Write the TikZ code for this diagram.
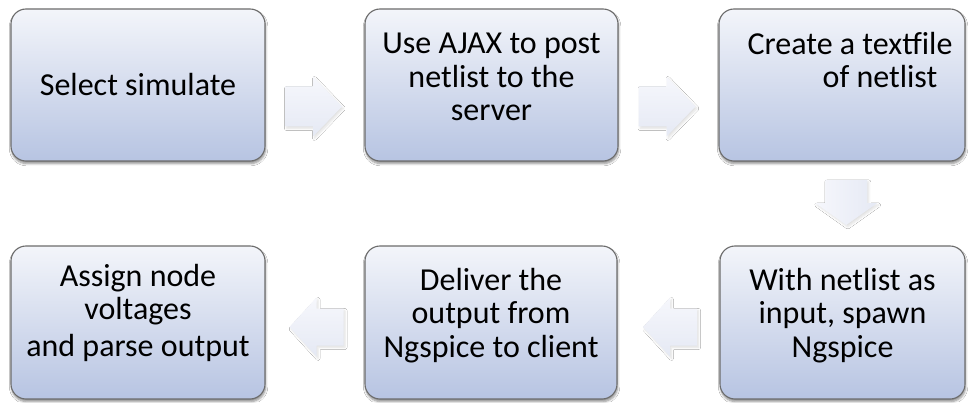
\documentclass[tikz,border=0pt]{standalone}
\usepackage{fontspec}
\setmainfont{Carlito}
\usetikzlibrary{calc,shadows.blur}

\definecolor{boxtop}{RGB}{243,245,250}
\definecolor{boxbot}{RGB}{183,196,226}
\definecolor{boxline}{RGB}{108,108,108}
\definecolor{arrlight}{RGB}{246,247,252}
\definecolor{arrdark}{RGB}{229,233,244}

\tikzset{
  stepbox/.style={draw=boxline, line width=1.1pt, rounded corners=15pt,
    top color=boxtop, bottom color=boxbot, inner sep=0pt,
    minimum height=152pt,
    blur shadow={shadow xshift=0.6pt, shadow yshift=-2.6pt,
      shadow opacity=45, shadow blur steps=6, shadow blur radius=2.2pt}},
  steptext/.style={align=center, inner sep=0pt,
    font=\fontsize{32}{33.5}\selectfont},
  arrowshade/.style={top color=arrlight, bottom color=arrdark},
  % block arrow pointing along +x, centred on its origin:
  % #1 length, #2 shaft half-height, #3 head half-height, #4 head length
  pics/blockarrow/.style n args={4}{code={
    \path[arrowshade,
      blur shadow={shadow xshift=1.5pt, shadow yshift=-2pt,
        shadow opacity=12, shadow blur steps=5, shadow blur radius=2pt}]
      (-#1/2,#2) -- (#1/2-#4,#2) -- (#1/2-#4,#3) -- (#1/2,0)
      -- (#1/2-#4,-#3) -- (#1/2-#4,-#2) -- (-#1/2,-#2) -- cycle;
  }},
}

\begin{document}
\begin{tikzpicture}[x=1pt,y=1pt]
\useasboundingbox (0,0) rectangle (968,402);
\fill[white] (0,0) rectangle (968,402);

% process steps
\node[stepbox, minimum width=254pt] (b1) at (138,317) {};
\node[stepbox, minimum width=253pt] (b2) at (491.5,317) {};
\node[stepbox, minimum width=246pt] (b3) at (842,317) {};
\node[stepbox, minimum width=254pt, minimum height=153pt] (b4) at (138,79.5) {};
\node[stepbox, minimum width=252pt, minimum height=153pt] (b5) at (491,79.5) {};
\node[stepbox, minimum width=245pt, minimum height=153pt] (b6) at (842.5,79.5) {};

% labels
\node[steptext] (t1) at (b1.center) {Select simulate};
\node[steptext] (t2) at ($(b2.center)+(0,8)$) {Use AJAX to post\\netlist to the\\server};
\node[steptext] (t3) at ($(b3.center)+(0,25)$) {\hspace*{16pt}Create a textfile\\\hspace*{76pt}of netlist};
\node[steptext] (t4) at ($(b4.center)+(0,10)$) {Assign node\\voltages\\[3pt]and parse output};
\node[steptext] (t5) at ($(b5.center)+(0,7)$) {Deliver the\\output from\\Ngspice to client};
\node[steptext] (t6) at ($(b6.center)+(0,7)$) {With netlist as\\input, spawn\\Ngspice};

% flow arrows between the steps
\pic[yshift=-21.5pt, xshift=-1.5pt] at ($(b1.east)!0.5!(b2.west)$) {blockarrow={57}{20}{30}{29}};
\pic[yshift=-21.5pt, xshift=-1.5pt] at ($(b2.east)!0.5!(b3.west)$) {blockarrow={57}{20}{30}{29}};
\pic[rotate=-90, xshift=-1pt, yshift=4pt,
     arrowshade/.style={left color=arrlight, right color=arrdark}]
  at ($(b3.south)!0.5!(b6.north)$) {blockarrow={45}{21}{31}{22}};
\pic[xscale=-1, yshift=-4.5pt, xshift=-1.5pt] at ($(b6.west)!0.5!(b5.east)$) {blockarrow={54}{18.5}{29.5}{27}};
\pic[xscale=-1, yshift=-4.5pt, xshift=-1.5pt] at ($(b5.west)!0.5!(b4.east)$) {blockarrow={54}{18.5}{29.5}{27}};
\end{tikzpicture}
\end{document}
